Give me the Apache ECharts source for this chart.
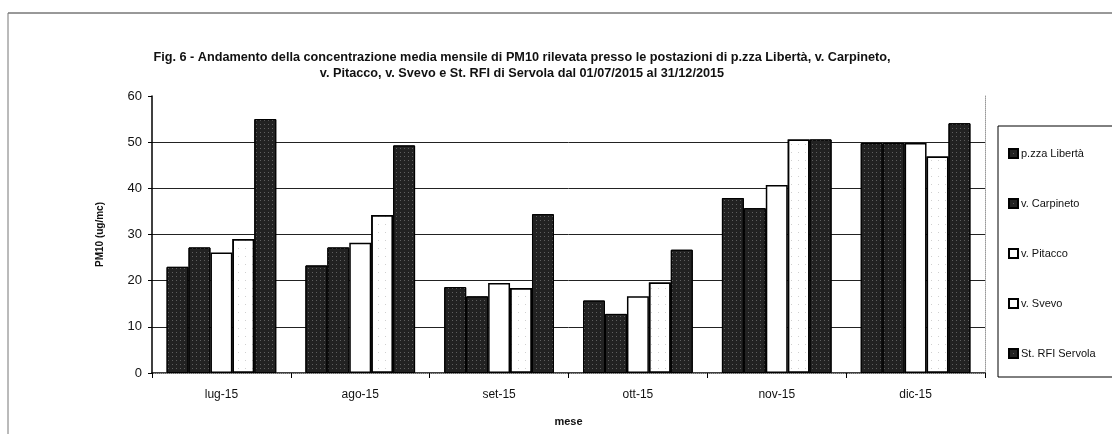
<!DOCTYPE html>
<html>
<head>
<meta charset="utf-8">
<script src="https://cdn.jsdelivr.net/npm/echarts@6/dist/echarts.min.js"></script>
<style>
  html, body { margin: 0; padding: 0; background: #fff; }
  #main { width: 1112px; height: 434px; }
</style>
</head>
<body>
<div id="main"></div>
<script>
const months = ['lug-15', 'ago-15', 'set-15', 'ott-15', 'nov-15', 'dic-15'];
const stations = ['p.zza Libertà', 'v. Carpineto', 'v. Pitacco', 'v. Svevo', 'St. RFI Servola'];
const liberta   = [23, 23.3, 18.6, 15.7, 37.9, 49.8];
const carpineto = [27.2, 27.2, 16.6, 12.8, 35.7, 49.8];
const pitacco   = [26.1, 28.2, 19.5, 16.6, 40.7, 49.8];
const svevo     = [29, 34.2, 18.4, 19.6, 50.6, 46.9];
const servola   = [55, 49.3, 34.4, 26.7, 50.6, 54.1];
const yTicks = [0, 10, 20, 30, 40, 50, 60];

const fontFam = '"Liberation Sans", Arial, sans-serif';

// puntinato sulle barre scure
const darkDecal = {
  symbol: 'rect',
  symbolSize: 1,
  color: 'rgba(255,255,255,0.28)',
  dashArrayX: [1, 3],
  dashArrayY: [1, 3],
  rotation: 0
};
const lightDecal = {
  symbol: 'rect',
  symbolSize: 1,
  color: 'rgba(0,0,0,0.18)',
  dashArrayX: [1, 6],
  dashArrayY: [1, 7],
  rotation: 0
};

function barSeries(name, data, dark, lightDots) {
  return {
    name: name,
    type: 'bar',
    data: data,
    barGap: '0%',
    barCategoryGap: '21%',
    itemStyle: {
      color: dark ? '#222' : '#ffffff',
      borderColor: '#000',
      borderWidth: dark ? 1 : 1.5,
      decal: dark ? darkDecal : (lightDots ? lightDecal : null)
    }
  };
}

var myChart = echarts.init(document.getElementById('main'));

var option = {
  backgroundColor: '#fff',
  animation: false,
  title: {
    text: 'Fig. 6 - Andamento della concentrazione media mensile di PM10 rilevata presso le postazioni di p.zza Libertà, v. Carpineto,\nv. Pitacco, v. Svevo e St. RFI di Servola dal 01/07/2015 al 31/12/2015',
    left: 517,
    top: 44,
    textAlign: 'center',
    textStyle: {
      fontFamily: fontFam,
      fontSize: 12.7,
      fontWeight: 'bold',
      lineHeight: 16,
      color: '#111'
    }
  },
  legend: {
    orient: 'vertical',
    left: 998,
    top: 126,
    padding: [22, 30, 18, 10],
    itemGap: 39,
    itemWidth: 9,
    itemHeight: 9,
    icon: 'rect',
    borderColor: '#000',
    borderWidth: 1,
    data: stations,
    textStyle: {
      fontFamily: fontFam,
      fontSize: 11,
      color: '#111',
      padding: [0, 0, 0, -2]
    }
  },
  grid: {
    left: 152,
    right: 127,
    top: 96,
    bottom: 61
  },
  xAxis: [{
    type: 'category',
    data: months,
    name: 'mese',
    nameLocation: 'middle',
    nameGap: 43,
    nameTextStyle: {
      fontFamily: fontFam,
      fontSize: 11,
      fontWeight: 'bold',
      color: '#111'
    },
    axisLine: { lineStyle: { color: '#000', width: 1.5 } },
    axisTick: { show: true, length: 5, lineStyle: { color: '#000' } },
    axisLabel: {
      fontFamily: fontFam,
      fontSize: 12,
      color: '#111',
      margin: 16
    }
  }, {
    type: 'category',
    data: months,
    position: 'top',
    axisLine: { lineStyle: { color: '#999', type: 'dotted' } },
    axisTick: { show: false },
    axisLabel: { show: false }
  }],
  yAxis: [{
    type: 'value',
    min: 0,
    max: 60,
    interval: 10,
    name: 'PM10 (ug/mc)',
    nameLocation: 'middle',
    nameGap: 47,
    nameTextStyle: {
      fontFamily: fontFam,
      fontSize: 10,
      fontWeight: 'bold',
      color: '#111'
    },
    axisLine: { show: true, lineStyle: { color: '#000', width: 1.5 } },
    axisTick: { show: true, length: 4, lineStyle: { color: '#000' } },
    axisLabel: {
      fontFamily: fontFam,
      fontSize: 13,
      color: '#111',
      margin: 10,
      formatter: function (v) { return yTicks.indexOf(v) >= 0 ? String(v) : ''; }
    },
    splitLine: {
      show: true,
      lineStyle: {
        color: ['#000', '#222', '#222', '#222', '#222', '#222', 'rgba(0,0,0,0)'],
        width: 1
      }
    }
  }, {
    type: 'value',
    min: 0,
    max: 60,
    interval: 10,
    position: 'right',
    axisLine: { show: true, lineStyle: { color: '#999', type: 'dotted' } },
    axisTick: { show: false },
    axisLabel: { show: false },
    splitLine: { show: false }
  }],
  graphic: [
    { type: 'line', shape: { x1: 8, y1: 13, x2: 1112, y2: 13 }, style: { stroke: '#333', lineWidth: 1 }, silent: true },
    { type: 'line', shape: { x1: 8, y1: 13, x2: 8, y2: 434 }, style: { stroke: '#777', lineWidth: 1 }, silent: true }
  ],
  series: [
    barSeries(stations[0], liberta, true, false),
    barSeries(stations[1], carpineto, true, false),
    barSeries(stations[2], pitacco, false, false),
    barSeries(stations[3], svevo, false, true),
    barSeries(stations[4], servola, true, false)
  ]
};

myChart.setOption(option);
</script>
</body>
</html>
